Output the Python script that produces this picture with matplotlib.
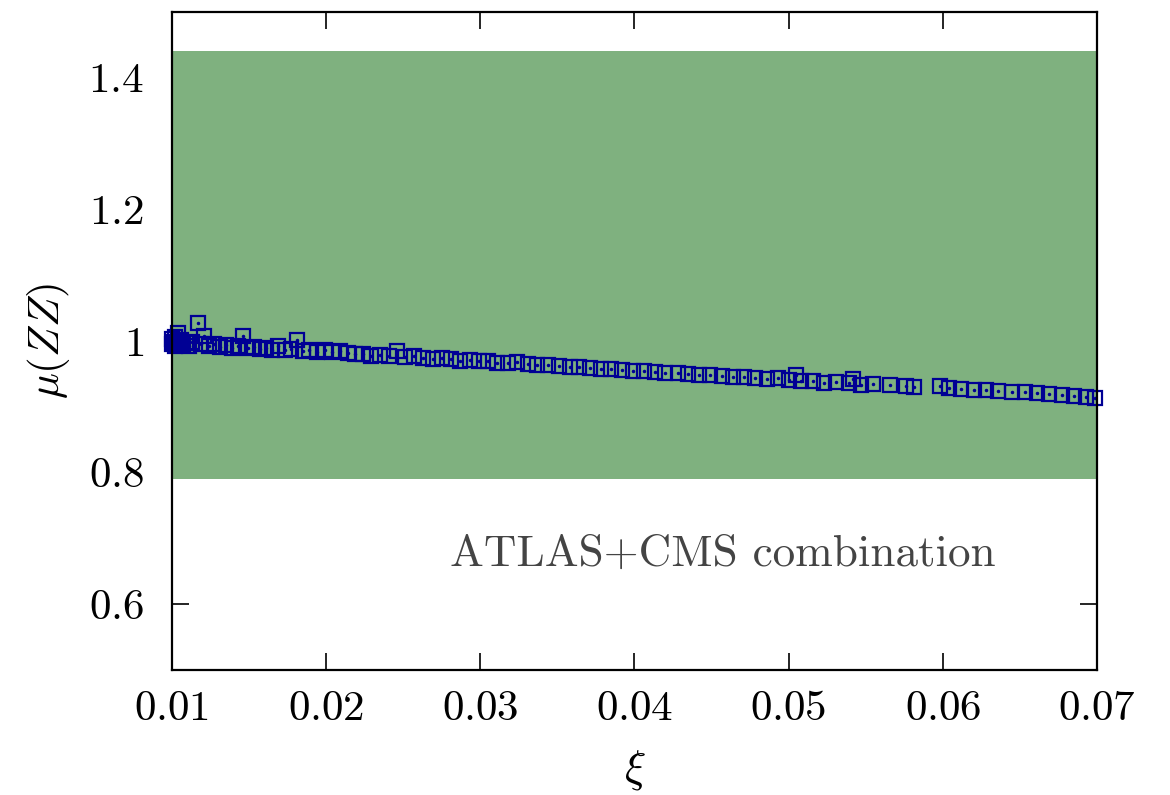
import matplotlib
matplotlib.use("Agg")
import matplotlib.pyplot as plt

plt.rcParams['mathtext.fontset'] = 'cm'
plt.rcParams['font.family'] = ['cmr10', 'DejaVu Serif']
plt.rcParams['axes.unicode_minus'] = False

# puntos del escaneo (xi, mu(ZZ))
xi = [0.0100, 0.0100, 0.0101, 0.0102, 0.0102, 0.0103, 0.0104, 0.0105, 0.0106, 0.0107,
      0.0109, 0.0111, 0.0113, 0.0117, 0.0119, 0.0121, 0.0124, 0.0127, 0.0131, 0.0135,
      0.0139, 0.0143, 0.0146, 0.0149, 0.0153, 0.0157, 0.0161, 0.0165, 0.0169, 0.0173,
      0.0177, 0.0181, 0.0185, 0.0189, 0.0194, 0.0199, 0.0204, 0.0209, 0.0214, 0.0219,
      0.0224, 0.0229, 0.0235, 0.0241, 0.0246, 0.0251, 0.0257, 0.0263, 0.0269, 0.0275,
      0.0281, 0.0287, 0.0293, 0.0299, 0.0305, 0.0311, 0.0318, 0.0324, 0.0331, 0.0337,
      0.0344, 0.0351, 0.0358, 0.0364, 0.0371, 0.0378, 0.0385, 0.0392, 0.0399, 0.0406,
      0.0413, 0.0420, 0.0428, 0.0435, 0.0442, 0.0449, 0.0457, 0.0464, 0.0471, 0.0478,
      0.0486, 0.0493, 0.0500, 0.0505, 0.0508, 0.0516, 0.0523, 0.0531, 0.0539, 0.0542,
      0.0547, 0.0555, 0.0566, 0.0576, 0.0581, 0.0598, 0.0604, 0.0612, 0.0620, 0.0628,
      0.0636, 0.0645, 0.0653, 0.0661, 0.0669, 0.0677, 0.0685, 0.0693, 0.0699]
mu_zz = [1.003, 0.995, 0.999, 1.006, 0.993, 0.998, 1.012, 0.996, 1.001, 0.994,
         0.997, 0.992, 0.999, 1.027, 0.995, 1.007, 0.993, 0.996, 0.991, 0.994,
         0.990, 0.992, 1.008, 0.989, 0.991, 0.988, 0.990, 0.987, 0.992, 0.986,
         0.988, 1.002, 0.985, 0.987, 0.984, 0.986, 0.983, 0.985, 0.982, 0.980,
         0.981, 0.978, 0.979, 0.977, 0.985, 0.976, 0.978, 0.975, 0.973, 0.974,
         0.972, 0.970, 0.971, 0.969, 0.970, 0.967, 0.966, 0.968, 0.965, 0.963,
         0.964, 0.962, 0.960, 0.961, 0.959, 0.957, 0.958, 0.956, 0.954, 0.955,
         0.953, 0.951, 0.952, 0.950, 0.948, 0.949, 0.947, 0.945, 0.946, 0.944,
         0.943, 0.944, 0.941, 0.949, 0.940, 0.939, 0.937, 0.938, 0.936, 0.943,
         0.934, 0.935, 0.933, 0.932, 0.930, 0.932, 0.928, 0.927, 0.925, 0.926,
         0.924, 0.922, 0.923, 0.921, 0.919, 0.918, 0.916, 0.915, 0.913]

# banda de la combinacion ATLAS+CMS
banda_min = 0.79
banda_max = 1.44

xticks = [0.01, 0.02, 0.03, 0.04, 0.05, 0.06, 0.07]
xlabels = ['0.01', '0.02', '0.03', '0.04', '0.05', '0.06', '0.07']
yticks = [0.6, 0.8, 1.0, 1.2, 1.4]
ylabels = ['0.6', '0.8', '1', '1.2', '1.4']

fig = plt.figure(figsize=(11.7, 7.95), dpi=100)
ax = fig.add_axes([0.147, 0.157, 0.7906, 0.828])

ax.axhspan(banda_min, banda_max, color='#7fb17f', lw=0, zorder=2.6)
azul = '#000094'
ax.plot(xi, mu_zz, ls='none', marker='s', ms=9.5, mfc='none', mec=azul, mew=1.6, zorder=4,
        clip_on=False)
ax.plot(xi, mu_zz, ls='none', marker='o', ms=1.5, color=azul, zorder=4, clip_on=False)

ax.set_xlim(0.01, 0.07)
ax.set_ylim(0.5, 1.5)
ax.set_xticks(xticks)
ax.set_xticklabels(['$' + t + '$' for t in xlabels])
ax.set_yticks(yticks)
ax.set_yticklabels(['$' + t + '$' for t in ylabels])
ax.tick_params(direction='in', length=12, width=1.2, top=True, right=True, labelsize=31, pad=20)
ax.tick_params(axis='x', pad=15)
for s in ax.spines.values():
    s.set_linewidth(1.6)
    s.set_zorder(5)

ax.set_xlabel(r'$\xi$', fontsize=32, labelpad=14)
ax.set_ylabel(r'$\mu(ZZ)$', fontsize=31, labelpad=12)

ax.text(0.0457, 0.676, 'ATLAS+CMS combination', fontsize=32.5, color='#444444',
        ha='center', va='center')

plt.savefig('out.png', dpi=100)
